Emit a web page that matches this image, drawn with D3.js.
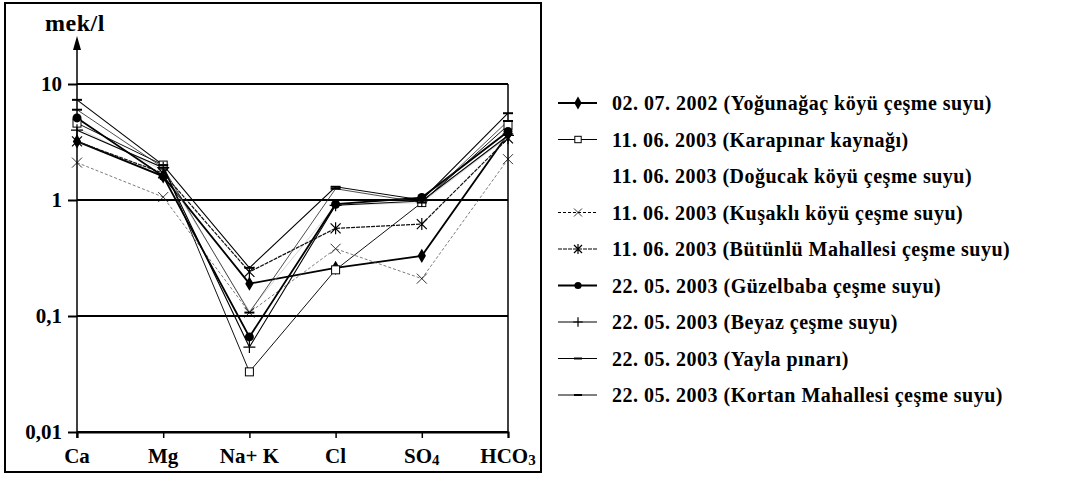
<!DOCTYPE html>
<html>
<head>
<meta charset="utf-8">
<script src="https://cdn.jsdelivr.net/npm/d3@7"></script>
<style>
  html, body { margin: 0; padding: 0; background: #fff; }
  svg text { font-family: "Liberation Serif", "Times New Roman", serif; font-weight: bold; }
</style>
</head>
<body>
<div id="vis"></div>
<script>
// ions on the x axis
var ions = ["Ca", "Mg", "Na+K", "Cl", "SO4", "HCO3"];
var ionLabels = [["Ca", ""], ["Mg", ""], ["Na+ K", ""], ["Cl", ""], ["SO", "4"], ["HCO", "3"]];

// y ticks (log scale, mek/l)
var yTicks = [0.01, 0.1, 1, 10];
var yTickLabels = ["0,01", "0,1", "1", "10"];

// sample names (legend)
var samples = [
    "02. 07. 2002 (Yoğunağaç köyü çeşme suyu)",
    "11. 06. 2003 (Karapınar kaynağı)",
    "11. 06. 2003 (Doğucak köyü çeşme suyu)",
    "11. 06. 2003 (Kuşaklı köyü çeşme suyu)",
    "11. 06. 2003 (Bütünlü Mahallesi çeşme suyu)",
    "22. 05. 2003 (Güzelbaba çeşme suyu)",
    "22. 05. 2003 (Beyaz çeşme suyu)",
    "22. 05. 2003 (Yayla pınarı)",
    "22. 05. 2003 (Kortan Mahallesi çeşme suyu)"
];

// values per sample, in order Ca, Mg, Na+K, Cl, SO4, HCO3
var yogunagac  = [3.2, 1.6, 0.19, 0.26, 0.33, 3.7];
var karapinar  = [4.6, 2.0, 0.033, 0.25, 0.95, 4.4];
var dogucak    = [4.2, 1.8, 0.11, 0.9, 0.95, 3.5];
var kusakli    = [2.1, 1.06, 0.107, 0.38, 0.21, 2.25];
var butunlu    = [3.2, 1.7, 0.24, 0.57, 0.62, 3.4];
var guzelbaba  = [5.1, 1.6, 0.066, 0.92, 1.05, 3.9];
var beyaz      = [4.0, 1.9, 0.054, 0.9, 0.98, 3.6];
var yayla      = [7.3, 2.0, 0.26, 1.3, 1.0, 5.6];
var kortan     = [6.0, 1.9, 0.107, 1.25, 0.95, 4.8];

var seriesValues = [yogunagac, karapinar, dogucak, kusakli, butunlu, guzelbaba, beyaz, yayla, kortan];
var markers = ["diamond", "square", "none", "cross", "star", "circle", "plus", "dash", "dash"];
var strokeW = [1.8, 1, 0.6, 0.7, 1.2, 1.8, 1.1, 1.1, 0.8];
var dashes = [null, null, null, "3,2", "4,1", null, null, null, null];
var colors = ["#000", "#111", "#bbb", "#444", "#111", "#000", "#000", "#000", "#222"];

var W = 1071, H = 478;
var svg = d3.select("#vis").append("svg").attr("width", W).attr("height", H);

// outer frame
svg.append("rect")
    .attr("x", 5).attr("y", 3).attr("width", 536).attr("height", 469)
    .attr("fill", "none").attr("stroke", "#000").attr("stroke-width", 2);

var x = d3.scalePoint().domain(ions).range([77, 508]);
var y = d3.scaleLog().domain([0.01, 10]).range([432, 84]);

// gridlines
svg.append("g").selectAll("line")
    .data(yTicks)
    .enter().append("line")
    .attr("x1", x("Ca")).attr("x2", x("HCO3"))
    .attr("y1", function (d) { return y(d); })
    .attr("y2", function (d) { return y(d); })
    .attr("stroke", "#000").attr("stroke-width", 2);

// right border
svg.append("line")
    .attr("x1", x("HCO3")).attr("x2", x("HCO3"))
    .attr("y1", y(10)).attr("y2", y(0.01))
    .attr("stroke", "#000").attr("stroke-width", 1.5);

// Y axis
var yAxis = svg.append("g")
    .attr("transform", "translate(" + x("Ca") + ",0)")
    .call(d3.axisLeft(y).tickValues(yTicks).tickSize(9).tickPadding(6)
        .tickFormat(function (d, i) { return yTickLabels[i]; }));
yAxis.attr("font-family", null).attr("font-size", null);
yAxis.select("path.domain").remove();
yAxis.selectAll(".tick line").attr("stroke", "#000").attr("stroke-width", 2);
yAxis.selectAll(".tick text")
    .attr("fill", "#000").attr("font-size", "21px");

// vertical axis line with arrow
svg.append("line")
    .attr("x1", x("Ca")).attr("x2", x("Ca"))
    .attr("y1", y(0.01) + 6).attr("y2", 44)
    .attr("stroke", "#000").attr("stroke-width", 1.5);
svg.append("path")
    .attr("d", "M" + x("Ca") + ",36 L" + (x("Ca") - 4) + ",50 L" + (x("Ca") + 4) + ",50 Z")
    .attr("fill", "#000");
svg.append("text")
    .attr("x", 45).attr("y", 31)
    .attr("font-size", "24px")
    .attr("letter-spacing", "0.5px")
    .text("mek/l");

// X axis
var xAxis = svg.append("g")
    .attr("transform", "translate(0," + y(0.01) + ")")
    .call(d3.axisBottom(x).tickSize(6).tickFormat(""));
xAxis.select("path.domain").attr("stroke", "#000").attr("stroke-width", 2);
xAxis.selectAll(".tick line").attr("stroke", "#000").attr("stroke-width", 1.5);

var xl = svg.append("g").selectAll("text")
    .data(ions)
    .enter().append("text")
    .attr("x", function (d) { return x(d); })
    .attr("y", 463)
    .attr("text-anchor", "middle")
    .attr("font-size", "21px");
xl.append("tspan").text(function (d, i) { return ionLabels[i][0]; });
xl.append("tspan").attr("font-size", "15px").attr("dy", 2)
    .text(function (d, i) { return ionLabels[i][1]; });

// lines
var line = d3.line()
    .x(function (d, i) { return x(ions[i]); })
    .y(function (d) { return y(d); });

svg.append("g").selectAll("path")
    .data(seriesValues)
    .enter().append("path")
    .attr("d", line)
    .attr("fill", "none")
    .attr("stroke", function (d, i) { return colors[i]; })
    .attr("stroke-width", function (d, i) { return strokeW[i]; })
    .attr("stroke-dasharray", function (d, i) { return dashes[i]; });

function drawMarker(g, type, cx, cy, small) {
    var s = small ? 0.8 : 1;
    if (type === "diamond") {
        g.append("path").attr("d", d3.symbol(d3.symbolDiamond, 60 * s)())
            .attr("transform", "translate(" + cx + "," + cy + ")").attr("fill", "#000");
    } else if (type === "square") {
        g.append("rect").attr("x", cx - 4 * s).attr("y", cy - 4 * s)
            .attr("width", 8 * s).attr("height", 8 * s)
            .attr("fill", "#fff").attr("stroke", "#000").attr("stroke-width", 1);
    } else if (type === "circle") {
        g.append("circle").attr("cx", cx).attr("cy", cy).attr("r", 4.5 * s).attr("fill", "#000");
    } else if (type === "cross" || type === "star") {
        var r = 5 * s;
        g.append("path")
            .attr("d", "M" + (cx - r) + "," + (cy - r) + "L" + (cx + r) + "," + (cy + r) +
                "M" + (cx - r) + "," + (cy + r) + "L" + (cx + r) + "," + (cy - r) +
                (type === "star" ? "M" + cx + "," + (cy - r - 1) + "L" + cx + "," + (cy + r + 1) : ""))
            .attr("stroke", "#000").attr("stroke-width", type === "star" ? 1.2 : 0.8);
    } else if (type === "plus") {
        var p = 6 * s;
        g.append("path")
            .attr("d", "M" + (cx - p) + "," + cy + "L" + (cx + p) + "," + cy +
                "M" + cx + "," + (cy - p) + "L" + cx + "," + (cy + p))
            .attr("stroke", "#000").attr("stroke-width", 1.2);
    } else if (type === "dash") {
        g.append("line").attr("x1", cx - 5 * s).attr("x2", cx + 5 * s)
            .attr("y1", cy).attr("y2", cy)
            .attr("stroke", "#000").attr("stroke-width", 2);
    }
}

var mg = svg.append("g");
seriesValues.forEach(function (vals, si) {
    vals.forEach(function (v, i) {
        drawMarker(mg, markers[si], x(ions[i]), y(v), false);
    });
});

// legend
var legY = d3.scalePoint().domain(d3.range(samples.length)).range([103, 395]);
var leg = svg.append("g");
samples.forEach(function (name, i) {
    var ly = legY(i);
    if (markers[i] !== "none") {
        leg.append("line")
            .attr("x1", 558).attr("x2", 597).attr("y1", ly).attr("y2", ly)
            .attr("stroke", "#000")
            .attr("stroke-width", Math.max(1, strokeW[i]))
            .attr("stroke-dasharray", dashes[i]);
        drawMarker(leg, markers[i], 578, ly, true);
    }
    leg.append("text")
        .attr("x", 612).attr("y", ly + 7)
        .attr("font-size", "20px")
        .attr("letter-spacing", "0.5px")
        .text(name);
});
</script>
</body>
</html>
